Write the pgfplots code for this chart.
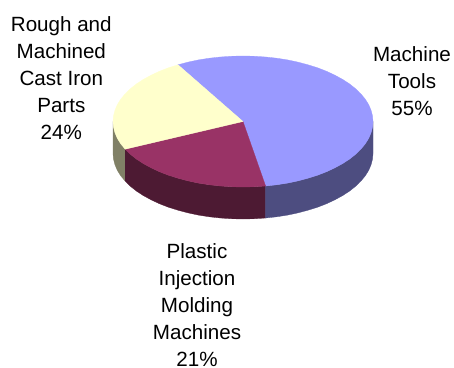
\documentclass[border=0pt]{standalone}
\usepackage{pgfplots}
\pgfplotsset{compat=1.18}
\usepackage{fontspec}
\setmainfont{Liberation Sans}
\definecolor{bluetop}{HTML}{9999FF}
\definecolor{blueside}{HTML}{4D4D80}
\definecolor{maroontop}{HTML}{993366}
\definecolor{maroonside}{HTML}{4D1A33}
\definecolor{yellowtop}{HTML}{FFFFCC}
\definecolor{yellowside}{HTML}{808066}
\tikzset{pielabel/.style={font=\fontsize{20.6}{27}\selectfont, align=center, inner sep=0pt, text=black}}
\begin{document}
\begin{tikzpicture}
\begin{axis}[
  scale only axis, width=454pt, height=367pt,
  xmin=-243, xmax=211, ymin=-245.5, ymax=121.5,
  hide axis, clip=false,
  every axis plot/.append style={line width=0.3pt}
]
% Rim of the disc, yellow slice
\addplot[fill=yellowside, draw=yellowside] coordinates {
  (-130,0) (-129.5,-5.7) (-128,-11.4) (-125.6,-17) (-122.2,-22.4) (-117.8,-27.7)
  (-117.8,-59.7) (-122.2,-54.4) (-125.6,-49) (-128,-43.4) (-129.5,-37.7) (-130,-32)
} --cycle;
% Rim, maroon slice
\addplot[fill=maroonside, draw=maroonside] coordinates {
  (-117.8,-27.7) (-112.6,-32.75) (-106.5,-37.6) (-99.6,-42.1) (-91.9,-46.3) (-83.6,-50.2)
  (-74.6,-53.7) (-65,-56.7) (-54.9,-59.4) (-44.5,-61.6) (-33.6,-63.3) (-22.6,-64.5)
  (-11.3,-65.25) (0,-65.5) (11.3,-65.25) (22.6,-64.5)
  (22.6,-96.5) (11.3,-97.25) (0,-97.5) (-11.3,-97.25) (-22.6,-96.5) (-33.6,-95.3)
  (-44.5,-93.6) (-54.9,-91.4) (-65,-88.7) (-74.6,-85.7) (-83.6,-82.2) (-91.9,-78.3)
  (-99.6,-74.1) (-106.5,-69.6) (-112.6,-64.75) (-117.8,-59.7)
} --cycle;
% Rim, blue slice
\addplot[fill=blueside, draw=blueside] coordinates {
  (22.6,-64.5) (33.6,-63.3) (44.5,-61.6) (54.9,-59.4) (65,-56.7) (74.6,-53.7)
  (83.6,-50.2) (91.9,-46.3) (99.6,-42.1) (106.5,-37.6) (112.6,-32.75) (117.8,-27.7)
  (122.2,-22.4) (125.6,-17) (128,-11.4) (129.5,-5.7) (130,0)
  (130,-32) (129.5,-37.7) (128,-43.4) (125.6,-49) (122.2,-54.4) (117.8,-59.7)
  (112.6,-64.75) (106.5,-69.6) (99.6,-74.1) (91.9,-78.3) (83.6,-82.2) (74.6,-85.7)
  (65,-88.7) (54.9,-91.4) (44.5,-93.6) (33.6,-95.3) (22.6,-96.5)
} --cycle;
% Top face, Machine Tools
\addplot[fill=bluetop, draw=bluetop] coordinates {
  (0,0) (-65,56.7) (-54.9,59.4) (-44.5,61.6) (-33.6,63.3) (-22.6,64.5) (-11.3,65.25)
  (0,65.5) (11.3,65.25) (22.6,64.5) (33.6,63.3) (44.5,61.6) (54.9,59.4) (65,56.7)
  (74.6,53.7) (83.6,50.2) (91.9,46.3) (99.6,42.1) (106.5,37.6) (112.6,32.75)
  (117.8,27.7) (122.2,22.4) (125.6,17) (128,11.4) (129.5,5.7) (130,0)
  (129.5,-5.7) (128,-11.4) (125.6,-17) (122.2,-22.4) (117.8,-27.7) (112.6,-32.75)
  (106.5,-37.6) (99.6,-42.1) (91.9,-46.3) (83.6,-50.2) (74.6,-53.7) (65,-56.7)
  (54.9,-59.4) (44.5,-61.6) (33.6,-63.3) (22.6,-64.5)
} --cycle;
% Top face, Plastic Injection Molding Machines
\addplot[fill=maroontop, draw=maroontop] coordinates {
  (0,0) (22.6,-64.5) (11.3,-65.25) (0,-65.5) (-11.3,-65.25) (-22.6,-64.5) (-33.6,-63.3)
  (-44.5,-61.6) (-54.9,-59.4) (-65,-56.7) (-74.6,-53.7) (-83.6,-50.2) (-91.9,-46.3)
  (-99.6,-42.1) (-106.5,-37.6) (-112.6,-32.75) (-117.8,-27.7)
} --cycle;
% Top face, Rough and Machined Cast Iron Parts
\addplot[fill=yellowtop, draw=yellowtop] coordinates {
  (0,0) (-117.8,-27.7) (-122.2,-22.4) (-125.6,-17) (-128,-11.4) (-129.5,-5.7) (-130,0)
  (-129.5,5.7) (-128,11.4) (-125.6,17) (-122.2,22.4) (-117.8,27.7) (-112.6,32.75)
  (-106.5,37.6) (-99.6,42.1) (-91.9,46.3) (-83.6,50.2) (-74.6,53.7) (-65,56.7)
} --cycle;
\node[pielabel] at (axis cs:169,40) {Machine\\Tools\\55\%};
\node[pielabel] at (axis cs:-181.7,43) {Rough and\\Machined\\Cast Iron\\Parts\\24\%};
\node[pielabel] at (axis cs:-46,-183.5) {Plastic\\Injection\\Molding\\Machines\\21\%};
\end{axis}
% The page is exactly the axis rectangle
\pgfresetboundingbox
\path[use as bounding box] (0,0) rectangle (454pt,367pt);
\end{tikzpicture}
\end{document}
